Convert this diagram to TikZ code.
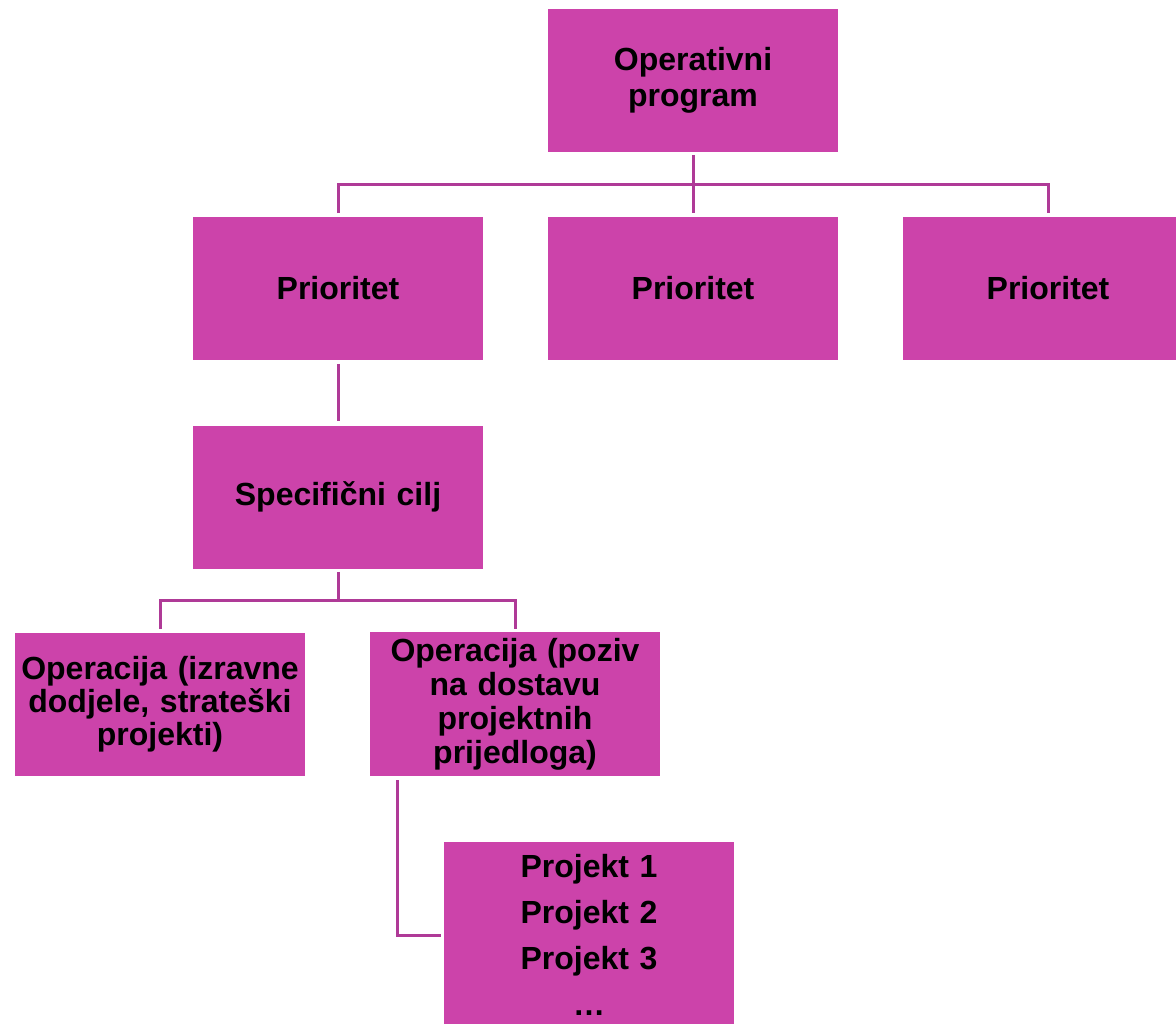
\documentclass[tikz,border=0pt]{standalone}
\usepackage{fontspec}
\setmainfont{Liberation Sans}
\usetikzlibrary{positioning,calc}
\definecolor{boxfill}{HTML}{CC43AA}
\definecolor{linkcol}{HTML}{AF3A97}
\begin{document}
\begin{tikzpicture}[node distance=104pt and 177.5pt,on grid,
    box/.style={fill=boxfill,text width=139pt,inner sep=3pt,minimum height=71.5pt,
        align=center,font=\fontsize{16pt}{16.5pt}\selectfont\bfseries},
    link/.style={draw=linkcol,line width=1.5pt}]
    \useasboundingbox (0,0) rectangle (588pt,-511.5pt);
    \clip (0,0) rectangle (588pt,-511.5pt);

    \node[box,font=\fontsize{16pt}{18pt}\selectfont\bfseries] (op) at (346.5pt,-40pt) {Operativni\\program};
    \node[box] (p2) [below=of op] {Prioritet};
    \node[box] (p1) [left=of p2]  {Prioritet};
    \node[box] (p3) [right=of p2] {Prioritet};
    \node[box] (cilj) [below=104.5pt of p1] {Specifični cilj};
    \node[box] (opA) [below left=103.5pt and 89pt of cilj]  {Operacija (izravne\\dodjele, strateški\\projekti)};
    \node[box,font=\fontsize{16pt}{17pt}\selectfont\bfseries]
        (opB) [below right=103.5pt and 88.5pt of cilj] {Operacija (poziv\\na dostavu\\projektnih\\prijedloga)};
    \node[box,minimum height=93pt,font=\fontsize{16pt}{23pt}\selectfont\bfseries]
        (proj) [below right=115.5pt and 37pt of opB] {Projekt 1\\Projekt 2\\Projekt 3\\\ldots};

    % connectors
    \coordinate (bus1) at ($(op.south)!0.5!(p2.north)$);
    \coordinate (bus2) at ($(cilj.south)!0.5!(cilj.south |- opA.north)$);
    \draw[link] ([yshift=-1.5pt]op.south) -- ([yshift=1.5pt]p2.north);
    \draw[link] ([yshift=1.5pt]p1.north) |- (bus1) -| ([yshift=1.5pt]p3.north);
    \draw[link] ([yshift=-2pt]p1.south) -- ([yshift=2pt]cilj.north);
    \draw[link] ([yshift=-1.5pt]cilj.south) -- (bus2);
    \draw[link] ([yshift=1.5pt]opA.north) |- (bus2) -| ([yshift=1.5pt]opB.north);
    \draw[link] ([xshift=14pt,yshift=-2pt]opB.south west) |- ([xshift=-1.5pt]proj.west);
\end{tikzpicture}
\end{document}
